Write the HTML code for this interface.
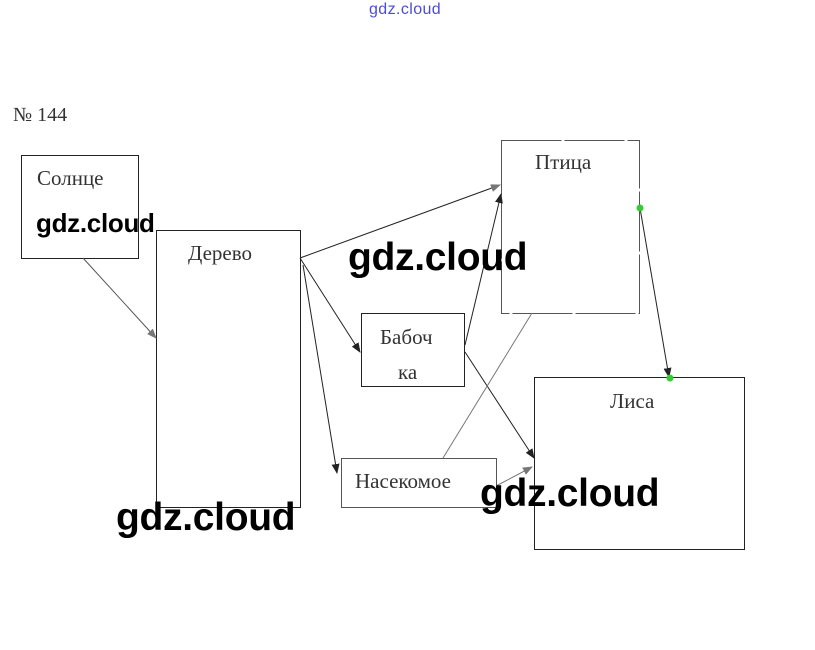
<!DOCTYPE html>
<html><head><meta charset="utf-8"><style>
body{margin:0;width:815px;height:650px;background:#fff;position:relative;overflow:hidden}
.t{position:absolute;font-family:"Liberation Serif",serif;font-size:21px;color:#333;white-space:nowrap}
.w{position:absolute;font-family:"Liberation Sans",sans-serif;font-weight:bold;color:#000;white-space:nowrap;letter-spacing:-0.3px}
</style></head><body>
<div style="position:absolute;left:369px;top:1px;font-family:'Liberation Sans',sans-serif;font-size:16px;color:#4b4bd8;letter-spacing:0.4px">gdz.cloud</div>
<svg width="815" height="650" style="position:absolute;left:0;top:0">
<defs><marker id="a" markerWidth="10" markerHeight="8" refX="9" refY="4" orient="auto" markerUnits="userSpaceOnUse"><path d="M0,0L10,4L0,8z" fill="#222"/></marker>
<marker id="g" markerWidth="10" markerHeight="8" refX="9" refY="4" orient="auto" markerUnits="userSpaceOnUse"><path d="M0,0L10,4L0,8z" fill="#777"/></marker></defs>
<g fill="none" stroke="#222" stroke-width="1">
<rect x="21.5" y="155.5" width="117" height="103"/>
<rect x="156.5" y="230.5" width="144" height="277"/>
<rect x="501.5" y="140.5" width="138" height="173" stroke="#555" stroke-dasharray="60 3"/>
<rect x="361.5" y="313.5" width="103" height="73"/>
<rect x="341.5" y="458.5" width="155" height="49" stroke="#555"/>
<rect x="534.5" y="377.5" width="210" height="172"/>
<line x1="83" y1="258" x2="156" y2="338" stroke="#555" marker-end="url(#g)"/>
<line x1="300" y1="258" x2="500" y2="185" marker-end="url(#g)"/>
<line x1="300" y1="258" x2="360" y2="352" marker-end="url(#a)"/>
<line x1="303" y1="265" x2="337" y2="473" marker-end="url(#a)"/>
<line x1="465" y1="345" x2="501" y2="194" marker-end="url(#a)"/>
<line x1="465" y1="352" x2="534" y2="458" marker-end="url(#a)"/>
<line x1="443" y1="458" x2="532" y2="313" stroke="#777"/>
<line x1="496" y1="486" x2="532" y2="467" stroke="#777" marker-end="url(#g)"/>
<line x1="640" y1="208" x2="669" y2="377" marker-end="url(#a)"/>
</g>
<circle cx="640" cy="208" r="3.5" fill="#3c3"/>
<circle cx="670" cy="378" r="3.5" fill="#3c3"/>
</svg>
<div class="t" style="left:13px;top:104px;font-size:20px">№ 144</div>
<div class="t" style="left:37px;top:166px">Солнце</div>
<div class="t" style="left:188px;top:241px">Дерево</div>
<div class="t" style="left:535px;top:150px">Птица</div>
<div class="t" style="left:380px;top:325px">Бабоч</div>
<div class="t" style="left:398px;top:360px">ка</div>
<div class="t" style="left:355px;top:469px">Насекомое</div>
<div class="t" style="left:610px;top:389px">Лиса</div>
<div class="w" style="left:36px;top:208px;font-size:26px">gdz.cloud</div>
<div class="w" style="left:348px;top:236px;font-size:39px">gdz.cloud</div>
<div class="w" style="left:480px;top:472px;font-size:39px">gdz.cloud</div>
<div class="w" style="left:116px;top:496px;font-size:39px">gdz.cloud</div>
</body></html>
